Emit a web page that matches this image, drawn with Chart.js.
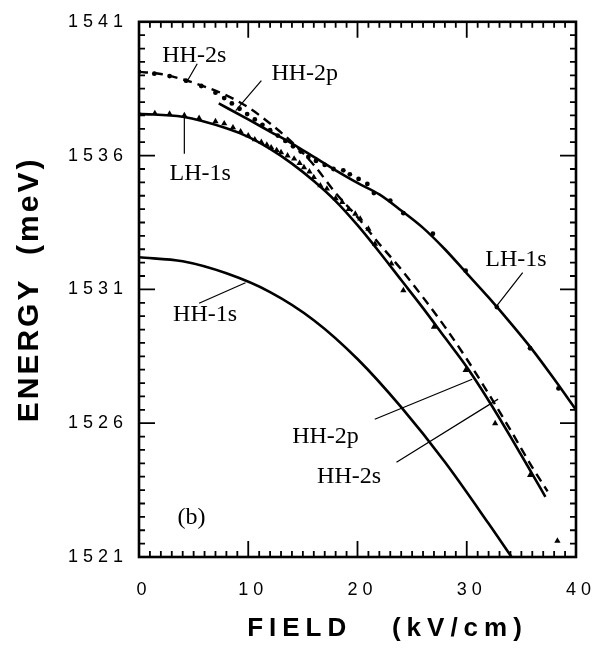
<!DOCTYPE html>
<html>
<head>
<meta charset="utf-8">
<script src="https://cdn.jsdelivr.net/npm/chart.js@4.4.1/dist/chart.umd.min.js"></script>
<style>
  html, body { margin: 0; padding: 0; background: #fff; }
</style>
</head>
<body>
<canvas id="chart" width="608" height="650"></canvas>
<script>
// ── Data (field in kV/cm, energy in meV) ─────────────────────
const hh1sField  = [0, 4, 8, 12, 16, 20, 24, 28, 32, 34.1];
const hh1sEnergy = [1532.2, 1532.05, 1531.6, 1530.9, 1529.85, 1528.4, 1526.6, 1524.55, 1522.25, 1521.0];

// lower branch (LH-1s at zero field)
const lowField  = [0, 4, 8, 10, 12, 14, 16, 18, 20, 22, 24, 26, 28, 30, 32, 34, 36, 37.2];
const lowEnergy = [1537.56, 1537.45, 1537.02, 1536.7, 1536.25, 1535.7, 1535.05, 1534.3, 1533.4, 1532.4,
                   1531.35, 1530.3, 1529.2, 1528.1, 1526.85, 1525.5, 1524.1, 1523.25];

// dashed curve
const dashField  = [0, 2, 4, 6, 8, 10, 12, 14, 16, 18, 20, 22, 24, 26, 28, 30, 32, 34, 36, 37.4];
const dashEnergy = [1539.13, 1539.05, 1538.85, 1538.58, 1538.25, 1537.8, 1537.2, 1536.5, 1535.65, 1534.6,
                    1533.7, 1532.7, 1531.75, 1530.7, 1529.6, 1528.4, 1527.1, 1525.75, 1524.35, 1523.45];

// upper branch (LH-1s at high field)
const upField  = [7.3, 10, 12, 14, 16, 18, 20, 22, 24, 26, 28, 30, 32, 34, 36, 38, 40];
const upEnergy = [1537.95, 1537.35, 1536.9, 1536.45, 1535.95, 1535.45, 1534.98, 1534.55, 1533.95,
                  1533.3, 1532.5, 1531.6, 1530.7, 1529.75, 1528.75, 1527.65, 1526.5];

// measured points: dots
const dotField  = [0, 1.4, 2.8, 4.3, 5.7, 7.0, 7.8, 8.5, 9.2, 9.9, 10.6, 11.3, 12.0, 12.7, 13.4, 14.1, 14.8,
                   15.5, 16.2, 17.0, 17.8, 18.7, 19.3, 20.1, 20.9, 21.5, 23.0, 24.2, 26.9, 29.9, 32.75, 35.8, 38.4];
const dotEnergy = [1539.13, 1539.06, 1538.97, 1538.8, 1538.6, 1538.35, 1538.15, 1537.95, 1537.75, 1537.55,
                   1537.35, 1537.15, 1536.95, 1536.75, 1536.55, 1536.35, 1536.15, 1535.95, 1535.8, 1535.65,
                   1535.5, 1535.45, 1535.3, 1535.13, 1534.94, 1534.6, 1534.32, 1533.85, 1533.08, 1531.7,
                   1530.34, 1528.8, 1527.3];

// measured points: triangles
const triField  = [0, 1.45, 2.8, 4.15, 5.5, 7.0, 7.8, 8.6, 9.3, 10.0, 10.6, 11.2, 11.7, 12.1, 12.6, 13.0, 13.6,
                   14.2, 14.7, 15.1, 15.6, 16.0, 16.6, 17.2, 18.0, 18.6, 19.2, 19.8, 20.25, 21.0, 21.6, 23.1,
                   24.2, 27.0, 29.9, 32.6, 35.8, 38.3];
const triEnergy = [1537.56, 1537.58, 1537.56, 1537.5, 1537.4, 1537.28, 1537.2, 1537.05, 1536.9, 1536.75,
                   1536.6, 1536.5, 1536.4, 1536.3, 1536.2, 1536.12, 1536.0, 1535.88, 1535.72, 1535.56,
                   1535.4, 1535.19, 1534.88, 1534.76, 1534.4, 1534.26, 1534.0, 1533.82, 1533.64, 1533.26,
                   1532.7, 1531.96, 1530.96, 1529.6, 1527.98, 1525.99, 1524.06, 1521.6];

// axis ticks
const fieldTicks  = [0, 10, 20, 30, 40];
const energyTicks = [1521, 1526, 1531, 1536, 1541];

// ── Annotations (data coords) ────────────────────────────────
const labelText   = ["HH-2s", "HH-2p", "LH-1s", "HH-1s", "LH-1s", "HH-2p", "HH-2s", "(b)"];
const labelField  = [5.06, 15.17, 5.6, 6.05, 34.5, 17.07, 19.23, 4.8];
const labelEnergy = [1539.73, 1539.06, 1535.33, 1530.07, 1532.12, 1525.51, 1523.99, 1522.46];

const leaderF1 = [5.33, 11.2, 4.15, 5.5, 35.12, 21.58, 23.57];
const leaderE1 = [1539.43, 1538.8, 1537.42, 1530.48, 1531.63, 1526.15, 1524.54];
const leaderF2 = [4.33, 8.85, 4.15, 9.75, 32.78, 30.5, 32.87];
const leaderE2 = [1538.72, 1537.68, 1536.07, 1531.25, 1530.4, 1527.64, 1526.9];

const pts = (xs, ys) => xs.map((x, i) => ({ x, y: ys[i] }));

// spaced-out axis titles (the scale draws them, we only set spacing / shift)
function spacedTitle(scale, spacing, dx) {
  if (scale._spaced) return;
  scale._spaced = true;
  const orig = scale.drawTitle;
  scale.drawTitle = function () {
    const ctx = this.ctx;
    const prev = ctx.letterSpacing;
    ctx.save();
    ctx.translate(dx, 0);
    ctx.letterSpacing = spacing;
    orig.call(this);
    ctx.restore();
    ctx.letterSpacing = prev;
  };
}

// ── Frame, inward ticks and labels ───────────────────────────
const framePlugin = {
  id: "frame",
  beforeDraw(chart) {
    spacedTitle(chart.scales.x, "6px", 30);
    spacedTitle(chart.scales.y, "3px", 0);
    chart.ctx.letterSpacing = "5px";
  },
  beforeDatasetsDraw(chart) { chart.ctx.letterSpacing = "0px"; },
  afterDatasetsDraw(chart) {
    const { ctx, chartArea: a, scales: { x, y } } = chart;
    ctx.save();
    ctx.letterSpacing = "0px";
    ctx.strokeStyle = "#000";
    ctx.lineCap = "butt";

    // ticks along x (every 1 kV/cm, long every 10)
    ctx.lineWidth = 1.8;
    ctx.beginPath();
    for (let v = 0; v <= 40; v++) {
      const px = x.getPixelForValue(v);
      const len = fieldTicks.includes(v) ? 16 : 6;
      ctx.moveTo(px, a.bottom); ctx.lineTo(px, a.bottom - len);
      ctx.moveTo(px, a.top);    ctx.lineTo(px, a.top + len);
    }
    // ticks along y (every 0.5 meV, long every 5)
    for (let v = 1521; v <= 1541; v += 0.5) {
      const py = y.getPixelForValue(v);
      const len = energyTicks.includes(v) ? 16 : 6;
      ctx.moveTo(a.left, py);  ctx.lineTo(a.left + len, py);
      ctx.moveTo(a.right, py); ctx.lineTo(a.right - len, py);
    }
    ctx.stroke();

    ctx.lineWidth = 2.6;
    ctx.strokeRect(a.left, a.top, a.right - a.left, a.bottom - a.top);

    // leader lines
    ctx.lineWidth = 1.2;
    ctx.beginPath();
    leaderF1.forEach((f, i) => {
      ctx.moveTo(x.getPixelForValue(f), y.getPixelForValue(leaderE1[i]));
      ctx.lineTo(x.getPixelForValue(leaderF2[i]), y.getPixelForValue(leaderE2[i]));
    });
    ctx.stroke();

    // curve labels
    ctx.fillStyle = "#000";
    ctx.font = "24px 'Liberation Serif', 'Times New Roman', serif";
    ctx.textAlign = "center";
    ctx.textBaseline = "middle";
    labelText.forEach((t, i) => {
      ctx.fillText(t, x.getPixelForValue(labelField[i]), y.getPixelForValue(labelEnergy[i]));
    });
    ctx.restore();
  }
};

const solid = { showLine: true, borderColor: "#000", borderWidth: 2.6, pointRadius: 0,
                cubicInterpolationMode: "monotone", fill: false };

new Chart(document.getElementById("chart"), {
  type: "scatter",
  data: {
    datasets: [
      { ...solid, label: "HH-1s", data: pts(hh1sField, hh1sEnergy) },
      { ...solid, label: "lower", data: pts(lowField, lowEnergy) },
      { ...solid, label: "upper", data: pts(upField, upEnergy) },
      { ...solid, label: "dashed", data: pts(dashField, dashEnergy), borderDash: [9, 6], borderWidth: 2.4 },
      { label: "dots", data: pts(dotField, dotEnergy), pointStyle: "circle", pointRadius: 2.4,
        backgroundColor: "#000", borderWidth: 0 },
      { label: "triangles", data: pts(triField, triEnergy), pointStyle: "triangle", pointRadius: 3.6,
        backgroundColor: "#000", borderColor: "#000", borderWidth: 0 }
    ]
  },
  options: {
    responsive: false,
    animation: false,
    layout: { padding: { top: 21, right: 26, left: 0, bottom: 0 } },
    plugins: { legend: { display: false }, tooltip: { enabled: false } },
    scales: {
      x: {
        type: "linear", min: 0, max: 40,
        grid: { display: false, drawTicks: false }, border: { display: false },
        afterBuildTicks: s => { s.ticks = fieldTicks.map(v => ({ value: v })); },
        afterFit: s => { s.height = 93; },
        ticks: { color: "#000", padding: 22, labelOffset: 5, callback: v => String(v),
                 font: { family: "'Liberation Sans', Arial", size: 18 } },
        title: { display: true, text: "FIELD   (kV/cm)", color: "#000", padding: { top: 0, bottom: 6 },
                 font: { family: "'Liberation Sans', Arial", size: 26, weight: "bold" } }
      },
      y: {
        type: "linear", min: 1521, max: 1541,
        grid: { display: false, drawTicks: false }, border: { display: false },
        afterBuildTicks: s => { s.ticks = energyTicks.map(v => ({ value: v })); },
        afterFit: s => { s.width = 139; },
        ticks: { color: "#000", padding: 11, callback: v => String(v),
                 font: { family: "'Liberation Sans', Arial", size: 18 } },
        title: { display: true, text: "ENERGY  (meV)", color: "#000", padding: { top: 12, bottom: 0 },
                 font: { family: "'Liberation Sans', Arial", size: 30, weight: "bold" } }
      }
    }
  },
  plugins: [framePlugin]
});
</script>
</body>
</html>
